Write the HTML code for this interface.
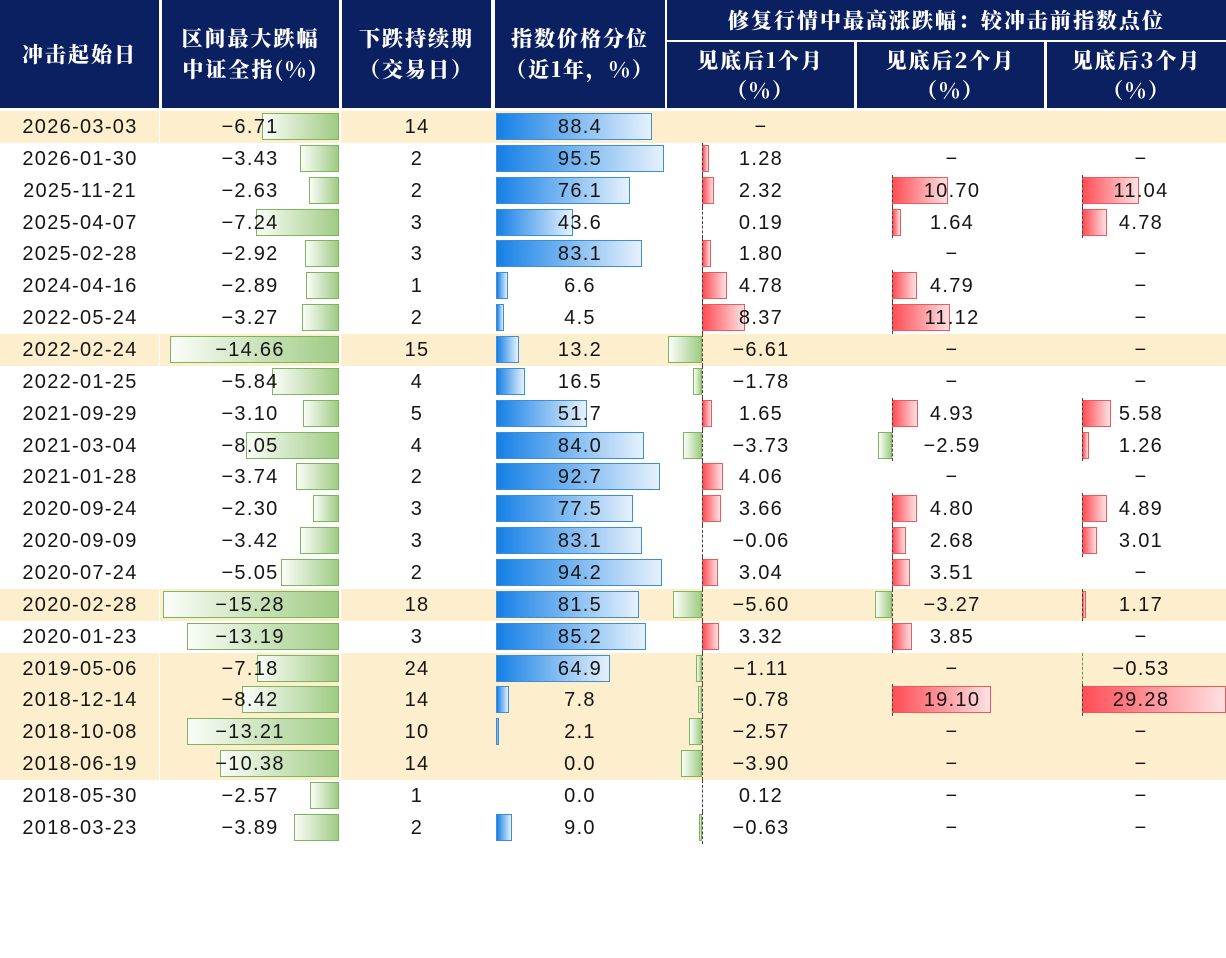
<!DOCTYPE html>
<html><head><meta charset="utf-8">
<style>
*{margin:0;padding:0;box-sizing:border-box}
body{width:1226px;height:847px;background:#fff;position:relative;overflow:hidden;font-family:"Liberation Sans","Noto Sans CJK SC",sans-serif;color:#111}
.h{position:absolute;background:#0b2060;color:#fff;font-family:"Noto Serif CJK SC","Noto Sans CJK SC",serif;font-weight:900;font-size:21px;letter-spacing:2px;text-align:center;display:flex;flex-direction:column;justify-content:center;line-height:31px}
#body{position:absolute;left:0;top:111px;width:1226px}
.r{position:relative;height:31.87px}
.r.y{background:#fdefcd}
.r span{position:absolute;top:0;height:31.87px;line-height:33px;text-align:center;font-size:20px;letter-spacing:1.3px;z-index:2;color:#151515}
.s1{left:0;width:160px}.s2{left:190px;width:120px}.s3{left:341px;width:152px}.s4{left:500px;width:160px}
.s5{left:711px;width:100px}.s6{left:902px;width:100px}.s7{left:1091px;width:100px}
.b{position:absolute;top:2px;height:27px;z-index:1}
.g{border:1px solid #7cb65c;background:linear-gradient(to right,#fbfdf9,#9fcb84)}
.gn{border:1px solid #7cb65c;background:linear-gradient(to right,#fbfdf9,#9fcb84)}
.bl{border:1px solid #3b8fd9;background:linear-gradient(to right,#1580e6,#e6f1fc)}
.rd{border:1px solid #ee5a5a;background:linear-gradient(to right,#ff4d55,#fde1e3)}
.ax{position:absolute;top:0;height:31.87px;width:0;border-left:1px dashed #5a3a3a;z-index:3}
.vl{position:absolute;top:0;width:2px;height:847px;background:#fff;z-index:5}
</style></head><body>
<div class="h" style="left:0;top:0;width:159px;height:108px">冲击起始日</div>
<div class="h" style="left:162px;top:0;width:177px;height:108px"><div>区间最大跌幅</div><div>中证全指(%)</div></div>
<div class="h" style="left:342px;top:0;width:149px;height:108px"><div>下跌持续期</div><div>（交易日）</div></div>
<div class="h" style="left:495px;top:0;width:170px;height:108px"><div>指数价格分位</div><div>（近1年，%）</div></div>
<div class="h" style="left:667px;top:0;width:559px;height:40px">修复行情中最高涨跌幅：较冲击前指数点位</div>
<div class="h" style="left:667px;top:42px;width:187px;height:66px;line-height:30px"><div>见底后1个月</div><div>（%）</div></div>
<div class="h" style="left:857px;top:42px;width:187px;height:66px;line-height:30px"><div>见底后2个月</div><div>（%）</div></div>
<div class="h" style="left:1047px;top:42px;width:179px;height:66px;line-height:30px"><div>见底后3个月</div><div>（%）</div></div>

<div id="body">
<div class="r y"><span class="s1">2026-03-03</span><span class="s2">−6.71</span><i class="b g" style="left:262px;width:77px"></i><span class="s3">14</span><span class="s4">88.4</span><i class="b bl" style="left:496px;width:156px"></i><span class="s5">−</span></div>
<div class="r"><span class="s1">2026-01-30</span><span class="s2">−3.43</span><i class="b g" style="left:300px;width:39px"></i><span class="s3">2</span><span class="s4">95.5</span><i class="b bl" style="left:496px;width:168px"></i><i class="ax" style="left:702px"></i><i class="b rd" style="left:702px;width:7px"></i><span class="s5">1.28</span><span class="s6">−</span><span class="s7">−</span></div>
<div class="r"><span class="s1">2025-11-21</span><span class="s2">−2.63</span><i class="b g" style="left:309px;width:30px"></i><span class="s3">2</span><span class="s4">76.1</span><i class="b bl" style="left:496px;width:134px"></i><i class="ax" style="left:702px"></i><i class="b rd" style="left:702px;width:12px"></i><span class="s5">2.32</span><i class="ax" style="left:892px"></i><i class="b rd" style="left:892px;width:56px"></i><span class="s6">10.70</span><i class="ax" style="left:1082px"></i><i class="b rd" style="left:1082px;width:57px"></i><span class="s7">11.04</span></div>
<div class="r"><span class="s1">2025-04-07</span><span class="s2">−7.24</span><i class="b g" style="left:256px;width:83px"></i><span class="s3">3</span><span class="s4">43.6</span><i class="b bl" style="left:496px;width:77px"></i><i class="ax" style="left:702px"></i><span class="s5">0.19</span><i class="ax" style="left:892px"></i><i class="b rd" style="left:892px;width:9px"></i><span class="s6">1.64</span><i class="ax" style="left:1082px"></i><i class="b rd" style="left:1082px;width:25px"></i><span class="s7">4.78</span></div>
<div class="r"><span class="s1">2025-02-28</span><span class="s2">−2.92</span><i class="b g" style="left:305px;width:34px"></i><span class="s3">3</span><span class="s4">83.1</span><i class="b bl" style="left:496px;width:146px"></i><i class="ax" style="left:702px"></i><i class="b rd" style="left:702px;width:9px"></i><span class="s5">1.80</span><span class="s6">−</span><span class="s7">−</span></div>
<div class="r"><span class="s1">2024-04-16</span><span class="s2">−2.89</span><i class="b g" style="left:306px;width:33px"></i><span class="s3">1</span><span class="s4">6.6</span><i class="b bl" style="left:496px;width:12px"></i><i class="ax" style="left:702px"></i><i class="b rd" style="left:702px;width:25px"></i><span class="s5">4.78</span><i class="ax" style="left:892px"></i><i class="b rd" style="left:892px;width:25px"></i><span class="s6">4.79</span><span class="s7">−</span></div>
<div class="r"><span class="s1">2022-05-24</span><span class="s2">−3.27</span><i class="b g" style="left:302px;width:37px"></i><span class="s3">2</span><span class="s4">4.5</span><i class="b bl" style="left:496px;width:8px"></i><i class="ax" style="left:702px"></i><i class="b rd" style="left:702px;width:43px"></i><span class="s5">8.37</span><i class="ax" style="left:892px"></i><i class="b rd" style="left:892px;width:58px"></i><span class="s6">11.12</span><span class="s7">−</span></div>
<div class="r y"><span class="s1">2022-02-24</span><span class="s2">−14.66</span><i class="b g" style="left:170px;width:169px"></i><span class="s3">15</span><span class="s4">13.2</span><i class="b bl" style="left:496px;width:23px"></i><i class="ax" style="left:702px"></i><i class="b gn" style="left:668px;width:34px"></i><span class="s5">−6.61</span><span class="s6">−</span><span class="s7">−</span></div>
<div class="r"><span class="s1">2022-01-25</span><span class="s2">−5.84</span><i class="b g" style="left:272px;width:67px"></i><span class="s3">4</span><span class="s4">16.5</span><i class="b bl" style="left:496px;width:29px"></i><i class="ax" style="left:702px"></i><i class="b gn" style="left:693px;width:9px"></i><span class="s5">−1.78</span><span class="s6">−</span><span class="s7">−</span></div>
<div class="r"><span class="s1">2021-09-29</span><span class="s2">−3.10</span><i class="b g" style="left:303px;width:36px"></i><span class="s3">5</span><span class="s4">51.7</span><i class="b bl" style="left:496px;width:91px"></i><i class="ax" style="left:702px"></i><i class="b rd" style="left:702px;width:10px"></i><span class="s5">1.65</span><i class="ax" style="left:892px"></i><i class="b rd" style="left:892px;width:26px"></i><span class="s6">4.93</span><i class="ax" style="left:1082px"></i><i class="b rd" style="left:1082px;width:29px"></i><span class="s7">5.58</span></div>
<div class="r"><span class="s1">2021-03-04</span><span class="s2">−8.05</span><i class="b g" style="left:246px;width:93px"></i><span class="s3">4</span><span class="s4">84.0</span><i class="b bl" style="left:496px;width:148px"></i><i class="ax" style="left:702px"></i><i class="b gn" style="left:683px;width:19px"></i><span class="s5">−3.73</span><i class="ax" style="left:892px"></i><i class="b gn" style="left:878px;width:14px"></i><span class="s6">−2.59</span><i class="ax" style="left:1082px"></i><i class="b rd" style="left:1082px;width:7px"></i><span class="s7">1.26</span></div>
<div class="r"><span class="s1">2021-01-28</span><span class="s2">−3.74</span><i class="b g" style="left:296px;width:43px"></i><span class="s3">2</span><span class="s4">92.7</span><i class="b bl" style="left:496px;width:164px"></i><i class="ax" style="left:702px"></i><i class="b rd" style="left:702px;width:21px"></i><span class="s5">4.06</span><span class="s6">−</span><span class="s7">−</span></div>
<div class="r"><span class="s1">2020-09-24</span><span class="s2">−2.30</span><i class="b g" style="left:313px;width:26px"></i><span class="s3">3</span><span class="s4">77.5</span><i class="b bl" style="left:496px;width:137px"></i><i class="ax" style="left:702px"></i><i class="b rd" style="left:702px;width:19px"></i><span class="s5">3.66</span><i class="ax" style="left:892px"></i><i class="b rd" style="left:892px;width:25px"></i><span class="s6">4.80</span><i class="ax" style="left:1082px"></i><i class="b rd" style="left:1082px;width:25px"></i><span class="s7">4.89</span></div>
<div class="r"><span class="s1">2020-09-09</span><span class="s2">−3.42</span><i class="b g" style="left:300px;width:39px"></i><span class="s3">3</span><span class="s4">83.1</span><i class="b bl" style="left:496px;width:146px"></i><i class="ax" style="left:702px"></i><span class="s5">−0.06</span><i class="ax" style="left:892px"></i><i class="b rd" style="left:892px;width:14px"></i><span class="s6">2.68</span><i class="ax" style="left:1082px"></i><i class="b rd" style="left:1082px;width:15px"></i><span class="s7">3.01</span></div>
<div class="r"><span class="s1">2020-07-24</span><span class="s2">−5.05</span><i class="b g" style="left:281px;width:58px"></i><span class="s3">2</span><span class="s4">94.2</span><i class="b bl" style="left:496px;width:166px"></i><i class="ax" style="left:702px"></i><i class="b rd" style="left:702px;width:16px"></i><span class="s5">3.04</span><i class="ax" style="left:892px"></i><i class="b rd" style="left:892px;width:18px"></i><span class="s6">3.51</span><span class="s7">−</span></div>
<div class="r y"><span class="s1">2020-02-28</span><span class="s2">−15.28</span><i class="b g" style="left:163px;width:176px"></i><span class="s3">18</span><span class="s4">81.5</span><i class="b bl" style="left:496px;width:143px"></i><i class="ax" style="left:702px"></i><i class="b gn" style="left:673px;width:29px"></i><span class="s5">−5.60</span><i class="ax" style="left:892px"></i><i class="b gn" style="left:875px;width:17px"></i><span class="s6">−3.27</span><i class="ax" style="left:1082px"></i><i class="b rd" style="left:1082px;width:4px"></i><span class="s7">1.17</span></div>
<div class="r"><span class="s1">2020-01-23</span><span class="s2">−13.19</span><i class="b g" style="left:187px;width:152px"></i><span class="s3">3</span><span class="s4">85.2</span><i class="b bl" style="left:496px;width:150px"></i><i class="ax" style="left:702px"></i><i class="b rd" style="left:702px;width:17px"></i><span class="s5">3.32</span><i class="ax" style="left:892px"></i><i class="b rd" style="left:892px;width:20px"></i><span class="s6">3.85</span><span class="s7">−</span></div>
<div class="r y"><span class="s1">2019-05-06</span><span class="s2">−7.18</span><i class="b g" style="left:257px;width:82px"></i><span class="s3">24</span><span class="s4">64.9</span><i class="b bl" style="left:496px;width:114px"></i><i class="ax" style="left:702px"></i><i class="b gn" style="left:696px;width:6px"></i><span class="s5">−1.11</span><span class="s6">−</span><i class="ax" style="left:1082px;border-color:#6a9a3a"></i><span class="s7">−0.53</span></div>
<div class="r y"><span class="s1">2018-12-14</span><span class="s2">−8.42</span><i class="b g" style="left:242px;width:97px"></i><span class="s3">14</span><span class="s4">7.8</span><i class="b bl" style="left:496px;width:13px"></i><i class="ax" style="left:702px"></i><i class="b gn" style="left:698px;width:4px"></i><span class="s5">−0.78</span><i class="ax" style="left:892px"></i><i class="b rd" style="left:892px;width:99px"></i><span class="s6">19.10</span><i class="ax" style="left:1082px"></i><i class="b rd" style="left:1082px;width:144px"></i><span class="s7">29.28</span></div>
<div class="r y"><span class="s1">2018-10-08</span><span class="s2">−13.21</span><i class="b g" style="left:187px;width:152px"></i><span class="s3">10</span><span class="s4">2.1</span><i class="b bl" style="left:496px;width:3px"></i><i class="ax" style="left:702px"></i><i class="b gn" style="left:689px;width:13px"></i><span class="s5">−2.57</span><span class="s6">−</span><span class="s7">−</span></div>
<div class="r y"><span class="s1">2018-06-19</span><span class="s2">−10.38</span><i class="b g" style="left:220px;width:119px"></i><span class="s3">14</span><span class="s4">0.0</span><i class="ax" style="left:702px"></i><i class="b gn" style="left:681px;width:21px"></i><span class="s5">−3.90</span><span class="s6">−</span><span class="s7">−</span></div>
<div class="r"><span class="s1">2018-05-30</span><span class="s2">−2.57</span><i class="b g" style="left:310px;width:29px"></i><span class="s3">1</span><span class="s4">0.0</span><i class="ax" style="left:702px"></i><span class="s5">0.12</span><span class="s6">−</span><span class="s7">−</span></div>
<div class="r"><span class="s1">2018-03-23</span><span class="s2">−3.89</span><i class="b g" style="left:294px;width:45px"></i><span class="s3">2</span><span class="s4">9.0</span><i class="b bl" style="left:496px;width:16px"></i><i class="ax" style="left:702px"></i><i class="b gn" style="left:699px;width:3px"></i><span class="s5">−0.63</span><span class="s6">−</span><span class="s7">−</span></div>
</div>
<div class="vl" style="left:339px;top:111px"></div>
<div class="vl" style="left:159px;top:111px;width:1px"></div>
</body></html>
